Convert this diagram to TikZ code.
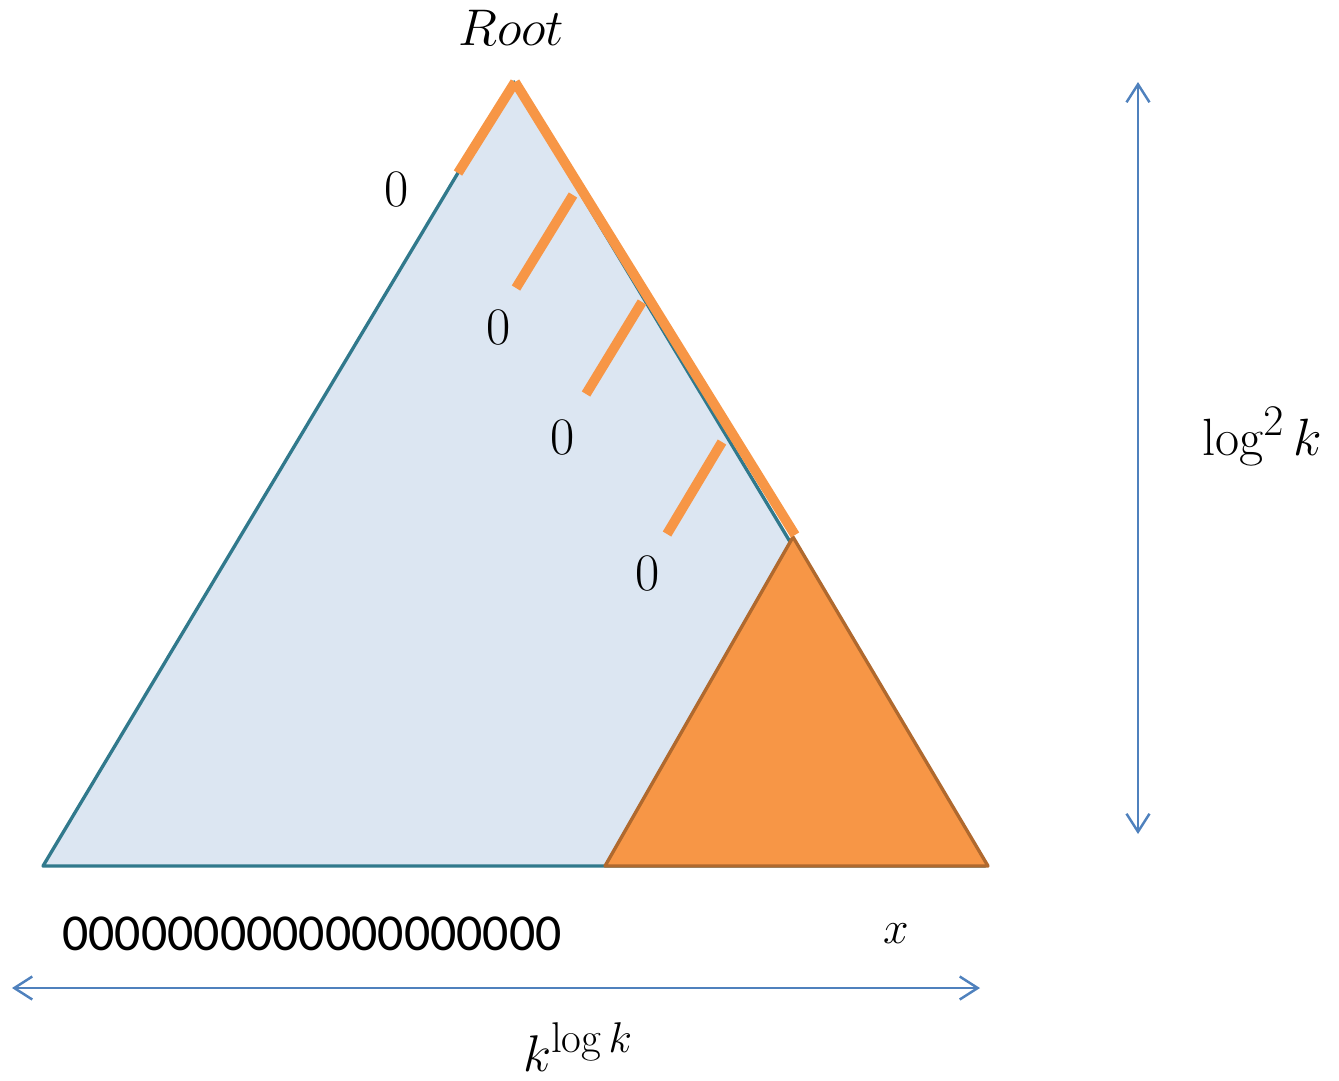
\documentclass[tikz,border=0pt]{standalone}
\usepackage{graphicx}
\usepackage{fontspec}
\newfontfamily\calib{Carlito}
\usetikzlibrary{arrows.meta}
\definecolor{tfill}{HTML}{DCE6F2}
\definecolor{tedge}{HTML}{31798C}
\definecolor{orng}{HTML}{F79646}
\definecolor{orngedge}{HTML}{B0692E}
\definecolor{arrblue}{HTML}{4F81BD}
\tikzset{
  orangebar/.style={draw=orng,line width=5.6pt},
  dimarrow/.style={draw=arrblue,line width=1.4pt,{Straight Barb[length=0.36cm,width=0.46cm]}-{Straight Barb[length=0.36cm,width=0.46cm]}},
  lbl/.style={inner sep=0pt,font=\fontsize{30}{35}\selectfont},
  mlbl/.style={inner sep=0pt,font=\fontsize{24.88}{30}\selectfont},
}
\begin{document}
\begin{tikzpicture}[x=0.02cm,y=-0.02cm]
\useasboundingbox (0,0) rectangle (1339,1080);
% coordinates
\coordinate (apex) at (513,81);
\coordinate (bl) at (43,866);
\coordinate (br) at (985,866);
\coordinate (oapex) at (793,537);
\coordinate (ol) at (605,866);
\coordinate (or) at (988,866);
% main triangle
\fill[tfill] (apex) -- (bl) -- (br) -- cycle;
\draw[tedge,line width=1.9pt,line join=round] (apex) -- (bl) -- (br) -- (apex);
% orange subtree
\filldraw[fill=orng,draw=orngedge,line width=1.9pt,line join=round] (oapex) -- (ol) -- (or) -- cycle;
% orange path along right edge
\coordinate (r0) at (515,82);
\coordinate (r1) at (795,535);
\draw[orangebar] (r0) -- (r1);
\coordinate (a1) at (458,173);
\draw[orangebar] (a1) -- (r0);
\coordinate (b0) at (573,195);
\coordinate (b1) at (516,288);
\draw[orangebar] (b0) -- (b1);
\coordinate (c0) at (642,302);
\coordinate (c1) at (586,394);
\draw[orangebar] (c0) -- (c1);
\coordinate (d0) at (722,442);
\coordinate (d1) at (667,534);
\draw[orangebar] (d0) -- (d1);
% labels
\node[mlbl] (root) at (511,28) {\scalebox{1.18}{$Root$}};
\node[lbl] (z1) at (397,189) {0};
\node[lbl] (z2) at (499,327) {0};
\node[lbl] (z3) at (563,437) {0};
\node[lbl] (z4) at (648,573) {0};
\node[lbl,font=\calib\fontsize{29.5}{34}\selectfont] (zeros) at (312,934) {0000000000000000000};
\node[mlbl] (xlbl) at (896,934) {\scalebox{1.05}{$x$}};
\node[mlbl] (height) at (1262,437) {\scalebox{1.2}{$\log^2 k$}};
\node[mlbl] (width) at (578,1047) {\scalebox{1.18}{$k^{\log k}$}};
% dimension arrows
\coordinate (vt) at (1138,82);
\coordinate (vb) at (1138,834);
\draw[dimarrow] (vt) -- (vb);
\coordinate (hl) at (12,988);
\coordinate (hr) at (980,988);
\draw[dimarrow] (hl) -- (hr);
\end{tikzpicture}
\end{document}
